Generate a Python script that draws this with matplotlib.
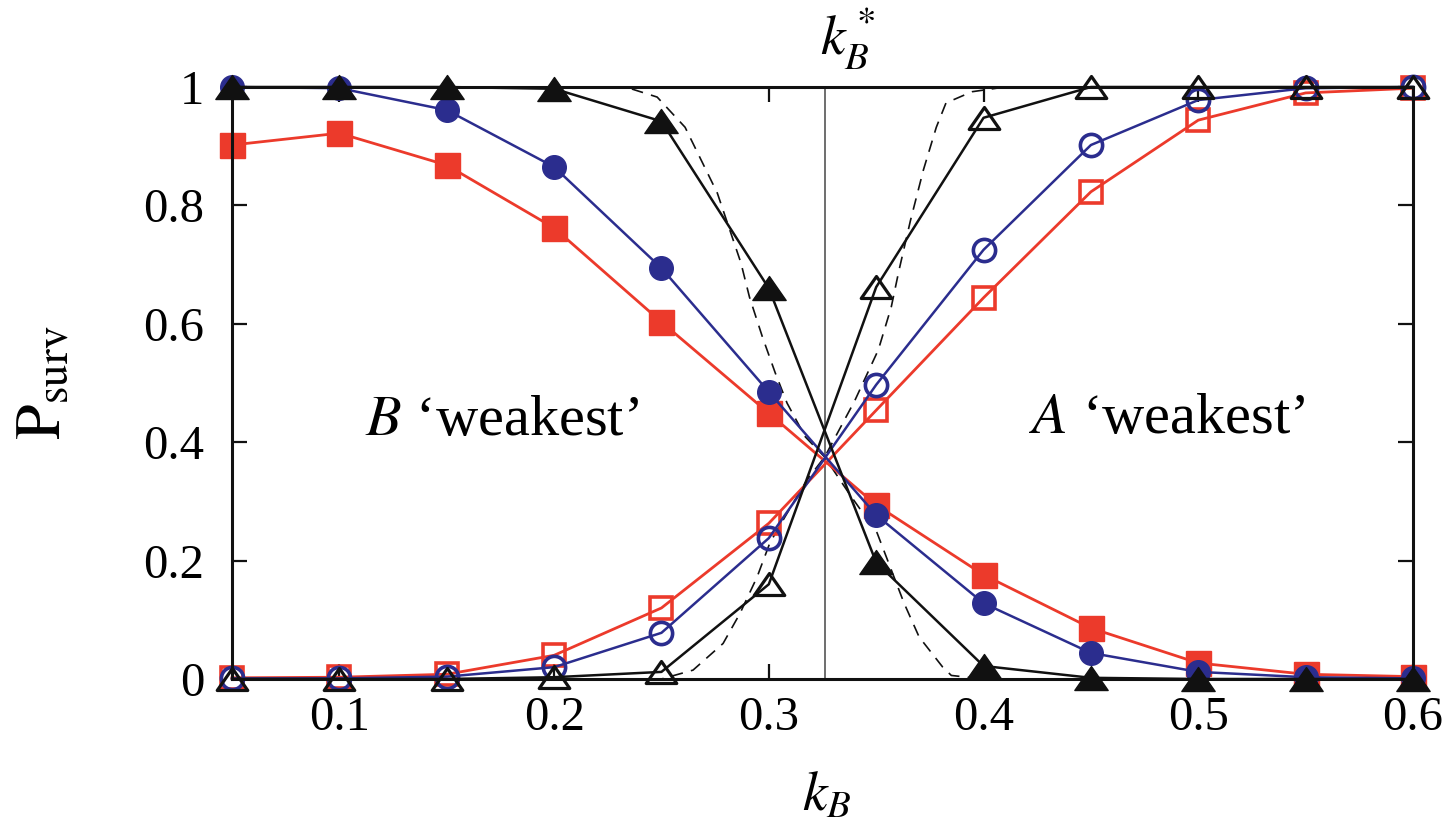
import numpy as np
import matplotlib
matplotlib.use("Agg")
import matplotlib.pyplot as plt
from matplotlib.path import Path

# --- data ---
kB = [0.05, 0.10, 0.15, 0.20, 0.25, 0.30, 0.35, 0.40, 0.45, 0.50, 0.55, 0.60]

# filled markers: decreasing curves, open markers: increasing curves
red_filled = [0.902, 0.922, 0.868, 0.762, 0.603, 0.449, 0.294, 0.176, 0.086, 0.027, 0.008, 0.004]
red_open = [0.002, 0.003, 0.008, 0.040, 0.120, 0.263, 0.454, 0.644, 0.823, 0.944, 0.990, 0.998]
blue_filled = [1.000, 0.998, 0.961, 0.865, 0.694, 0.485, 0.277, 0.128, 0.044, 0.012, 0.003, 0.001]
blue_open = [0.001, 0.001, 0.004, 0.020, 0.078, 0.238, 0.497, 0.725, 0.902, 0.978, 0.998, 1.000]
black_filled = [1.000, 1.000, 1.000, 0.997, 0.942, 0.660, 0.197, 0.022, 0.002, 0.000, 0.000, 0.000]
black_open = [0.000, 0.000, 0.000, 0.003, 0.012, 0.160, 0.662, 0.948, 1.000, 1.000, 1.000, 1.000]

# dashed theory curves
dash_dn_x = [0.05, 0.200, 0.235, 0.248, 0.261, 0.276, 0.287, 0.291, 0.297, 0.303, 0.3085,
             0.317, 0.326, 0.338, 0.3504, 0.363, 0.370, 0.381, 0.385, 0.400, 0.60]
dash_dn_y = [1.000, 1.000, 0.998, 0.983, 0.932, 0.821, 0.703, 0.645, 0.578, 0.517, 0.466,
             0.409, 0.375, 0.310, 0.247, 0.128, 0.071, 0.020, 0.006, 0.000, 0.000]
dash_up_x = [0.05, 0.250, 0.2647, 0.2787, 0.2866, 0.2945, 0.3005, 0.3085, 0.3177, 0.326,
             0.340, 0.351, 0.357, 0.3606, 0.366, 0.372, 0.378, 0.3825, 0.3946, 0.410, 0.60]
dash_up_y = [0.000, 0.000, 0.015, 0.060, 0.111, 0.172, 0.230, 0.280, 0.336, 0.375,
             0.470, 0.556, 0.628, 0.690, 0.775, 0.860, 0.932, 0.973, 0.992, 1.000, 1.000]

k_star = 0.326

xticks = [0.1, 0.2, 0.3, 0.4, 0.5, 0.6]
xticklabels = ["0.1", "0.2", "0.3", "0.4", "0.5", "0.6"]
yticks = [0, 0.2, 0.4, 0.6, 0.8, 1.0]
yticklabels = ["0", "0.2", "0.4", "0.6", "0.8", "1"]

# --- style ---
plt.rcParams['font.family'] = ['Liberation Serif', 'DejaVu Serif']
plt.rcParams['mathtext.fontset'] = 'stix'

RED = '#ec3a2b'
BLUE = '#2b2d8e'
BLACK = '#111111'

# wide closed triangle like the original
tri = Path([(0, 0.72), (-1, -0.72), (1, -0.72), (0, 0.72)],
           [Path.MOVETO, Path.LINETO, Path.LINETO, Path.CLOSEPOLY])

fig = plt.figure(figsize=(14.54, 8.25), dpi=100)
ax = fig.add_axes([232 / 1454, 1 - 679 / 825, (1413 - 232) / 1454, (679 - 87) / 825])

# vertical line at k_B*
ax.plot([k_star, k_star], [0, 1], color='#555555', lw=1.2, zorder=1)

# dashed curves
ax.plot(dash_dn_x, dash_dn_y, color=BLACK, lw=1.2, ls=(0, (7, 5)), zorder=2)
ax.plot(dash_up_x, dash_up_y, color=BLACK, lw=1.2, ls=(0, (7, 5)), zorder=2)

# red squares
ax.plot(kB, red_filled, color=RED, lw=2.0, marker='s', ms=18, mfc=RED, mec=RED,
        clip_on=False, zorder=3)
ax.plot(kB, red_open, color=RED, lw=2.0, marker='s', ms=16, mfc='none', mec=RED,
        mew=2.6, clip_on=False, zorder=3)
# blue circles
ax.plot(kB, blue_filled, color=BLUE, lw=1.8, marker='o', ms=17, mfc=BLUE, mec=BLUE,
        clip_on=False, zorder=4)
ax.plot(kB, blue_open, color=BLUE, lw=1.8, marker='o', ms=16, mfc='none', mec=BLUE,
        mew=2.6, clip_on=False, zorder=4)
# black triangles
ax.plot(kB, black_filled, color=BLACK, lw=1.8, marker=tri, ms=24, mfc=BLACK, mec=BLACK,
        clip_on=False, zorder=5)
ax.plot(kB, black_open, color=BLACK, lw=1.8, marker=tri, ms=22, mfc='none', mec=BLACK,
        mew=2.3, clip_on=False, zorder=5)

ax.set_xlim(0.05, 0.6)
ax.set_ylim(0, 1)
ax.set_xticks(xticks)
ax.set_xticklabels(xticklabels)
ax.set_yticks(yticks)
ax.set_yticklabels(yticklabels)
ax.tick_params(axis='both', direction='in', length=11, width=1.6, top=True, right=True,
               labelsize=35, color=BLACK)
ax.tick_params(axis='x', pad=12)
ax.tick_params(axis='y', pad=20)
for sp in ax.spines.values():
    sp.set_linewidth(2.2)
    sp.set_color(BLACK)
    sp.set_zorder(6)

# annotations
ax.text(0.1119, 0.412, "$B$ \u2018weakest\u2019", fontsize=42, ha='left', va='baseline')
ax.text(0.4212, 0.4155, "$A$ \u2018weakest\u2019", fontsize=42, ha='left', va='baseline')

# axis labels
fig.text(45 / 1454, 0.5 + 0.5 * (1 - (679 + 87) / 825), r"$\mathrm{P}_{\mathrm{surv}}$",
         fontsize=46, rotation=90, ha='center', va='center')
fig.text(827 / 1454, 1 - 810 / 825, r"$k_B$", fontsize=40, ha='center', va='baseline')
fig.text(820 / 1454, 1 - 55 / 825, r"$k_B^*$", fontsize=40, ha='left', va='baseline')

fig.savefig("out.png", dpi=100)
